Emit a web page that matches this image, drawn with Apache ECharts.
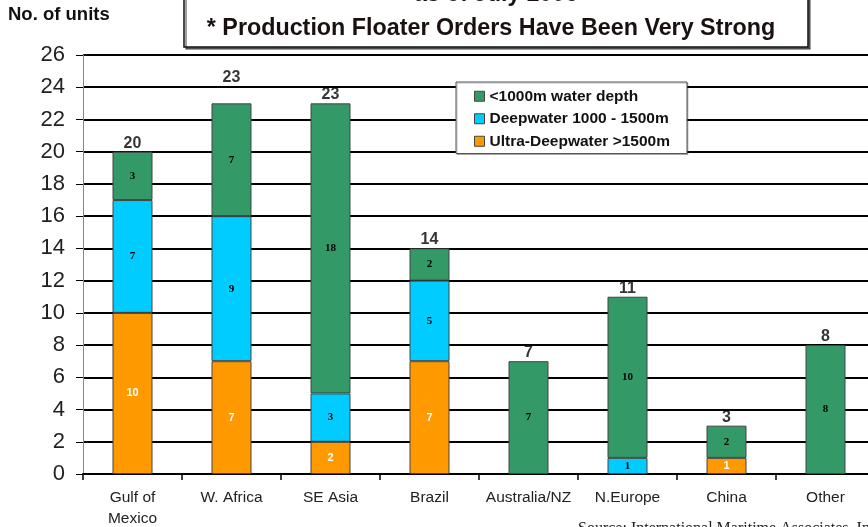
<!DOCTYPE html>
<html>
<head>
<meta charset="utf-8">
<script src="https://cdn.jsdelivr.net/npm/echarts@6/dist/echarts.min.js"></script>
<style>
  html, body { margin: 0; padding: 0; background: #fff; }
  #chart { width: 868px; height: 527px; }
</style>
</head>
<body>
<div id="chart"></div>
<script>
// Floater orders by region, split by water depth
const regions = ['Gulf of\nMexico', 'W. Africa', 'SE Asia', 'Brazil', 'Australia/NZ', 'N.Europe', 'China', 'Other'];
const shallowUnits = [3, 7, 18, 2, 7, 10, 2, 8];   // <1000m water depth
const deepUnits    = [7, 9, 3, 5, 0, 1, 0, 0];     // 1000 - 1500m
const ultraUnits   = [10, 7, 2, 7, 0, 0, 1, 0];    // >1500m
const yTicks = [0, 2, 4, 6, 8, 10, 12, 14, 16, 18, 20, 22, 24, 26];

const totals = regions.map((_, i) => shallowUnits[i] + deepUnits[i] + ultraUnits[i]);
const orZero = arr => arr.map(v => (v === 0 ? '-' : v));

// the W. Africa total sits a little higher than the others
const totalPoints = totals.map((v, i) =>
  regions[i] === 'W. Africa' ? { value: v, label: { offset: [0, -17] } } : v
);

const chart = echarts.init(document.getElementById('chart'), null, { renderer: 'canvas' });

const barBase = {
  type: 'bar',
  stack: 'units',
  barWidth: 40,
  emphasis: { disabled: true }
};

const darkLabel = {
  show: true,
  position: 'inside',
  color: '#000',
  fontFamily: 'Liberation Serif',
  fontWeight: 'bold',
  fontSize: 11
};

chart.setOption({
  animation: false,
  backgroundColor: '#fff',
  grid: { left: 83, top: 55, width: 792, height: 419, containLabel: false, outerBoundsMode: 'none' },
  legend: {
    data: ['<1000m water depth', 'Deepwater 1000 - 1500m', 'Ultra-Deepwater >1500m'],
    orient: 'vertical',
    left: 456,
    top: 82,
    padding: [6, 17, 4, 18],
    itemGap: 6,
    itemWidth: 10,
    itemHeight: 10,
    icon: 'rect',
    backgroundColor: '#fff',
    borderColor: '#555',
    borderWidth: 1,
    shadowColor: 'rgba(0,0,0,0.25)',
    shadowOffsetX: 1,
    shadowOffsetY: 1,
    itemStyle: { borderColor: '#444', borderWidth: 1 },
    textStyle: { fontFamily: 'Liberation Sans', fontWeight: 'bold', fontSize: 15.5, lineHeight: 16.5, color: '#111' }
  },
  xAxis: {
    type: 'category',
    data: regions,
    axisLine: { lineStyle: { color: '#000', width: 2 } },
    axisTick: { show: true, alignWithLabel: false, length: 6, lineStyle: { color: '#000', width: 1.5 } },
    axisLabel: { fontFamily: 'Liberation Sans', fontSize: 15.5, color: '#222', margin: 13, lineHeight: 21, interval: 0 },
    splitLine: { show: false }
  },
  yAxis: {
    type: 'value',
    min: yTicks[0],
    max: yTicks[yTicks.length - 1],
    interval: 2,
    axisLine: { show: true, lineStyle: { color: '#888', width: 1 } },
    axisTick: { show: true, length: 7, lineStyle: { color: '#000' } },
    axisLabel: { fontFamily: 'Liberation Sans', fontSize: 22, color: '#222', margin: 18 },
    splitLine: { show: true, lineStyle: { color: '#000', width: 2 } }
  },
  series: [
    Object.assign({}, barBase, {
      name: 'Ultra-Deepwater >1500m',
      data: orZero(ultraUnits),
      itemStyle: { color: '#FF9900', borderColor: '#444', borderWidth: 1 },
      label: { show: true, position: 'inside', color: '#fff', fontFamily: 'Liberation Sans', fontWeight: 'bold', fontSize: 11 }
    }),
    Object.assign({}, barBase, {
      name: 'Deepwater 1000 - 1500m',
      data: orZero(deepUnits),
      itemStyle: { color: '#00CCFF', borderColor: '#444', borderWidth: 1 },
      label: darkLabel
    }),
    Object.assign({}, barBase, {
      name: '<1000m water depth',
      data: orZero(shallowUnits),
      itemStyle: { color: '#339966', borderColor: '#444', borderWidth: 1 },
      label: darkLabel
    }),
    {
      // stack totals written above each column
      name: 'total',
      type: 'scatter',
      data: totalPoints,
      symbolSize: 1,
      itemStyle: { color: 'rgba(0,0,0,0)' },
      silent: true,
      label: {
        show: true,
        position: 'top',
        distance: 0,
        color: '#000',
        fontFamily: 'Liberation Sans',
        fontWeight: 'bold',
        fontSize: 16
      },
      z: 5
    }
  ],
  graphic: [
    {
      type: 'text',
      left: 8,
      top: 5,
      style: { text: 'No. of units', font: 'bold 18.5px "Liberation Sans"', fill: '#111' }
    },
    {
      type: 'rect',
      shape: { x: 184, y: -12, width: 624, height: 59 },
      style: { fill: '#fff', stroke: '#111', lineWidth: 1.5, shadowColor: 'rgba(0,0,0,0.5)', shadowOffsetX: 2, shadowOffsetY: 2 },
      z: 10
    },
    {
      type: 'text',
      x: 496,
      y: -17,
      style: { text: 'as of July 2006', font: 'bold 23px "Liberation Sans"', fill: '#1a1010', align: 'center' },
      z: 11
    },
    {
      type: 'text',
      x: 491,
      y: 17,
      style: { text: '* Production Floater Orders Have Been Very Strong', font: 'bold 23.3px "Liberation Sans"', fill: '#1a1010', align: 'center' },
      z: 11
    },
    {
      type: 'text',
      x: 578,
      y: 521,
      style: { text: 'Source: International Maritime Associates, Inc.', font: '16px "Liberation Serif"', fill: '#222' }
    }
  ]
});
</script>
</body>
</html>
